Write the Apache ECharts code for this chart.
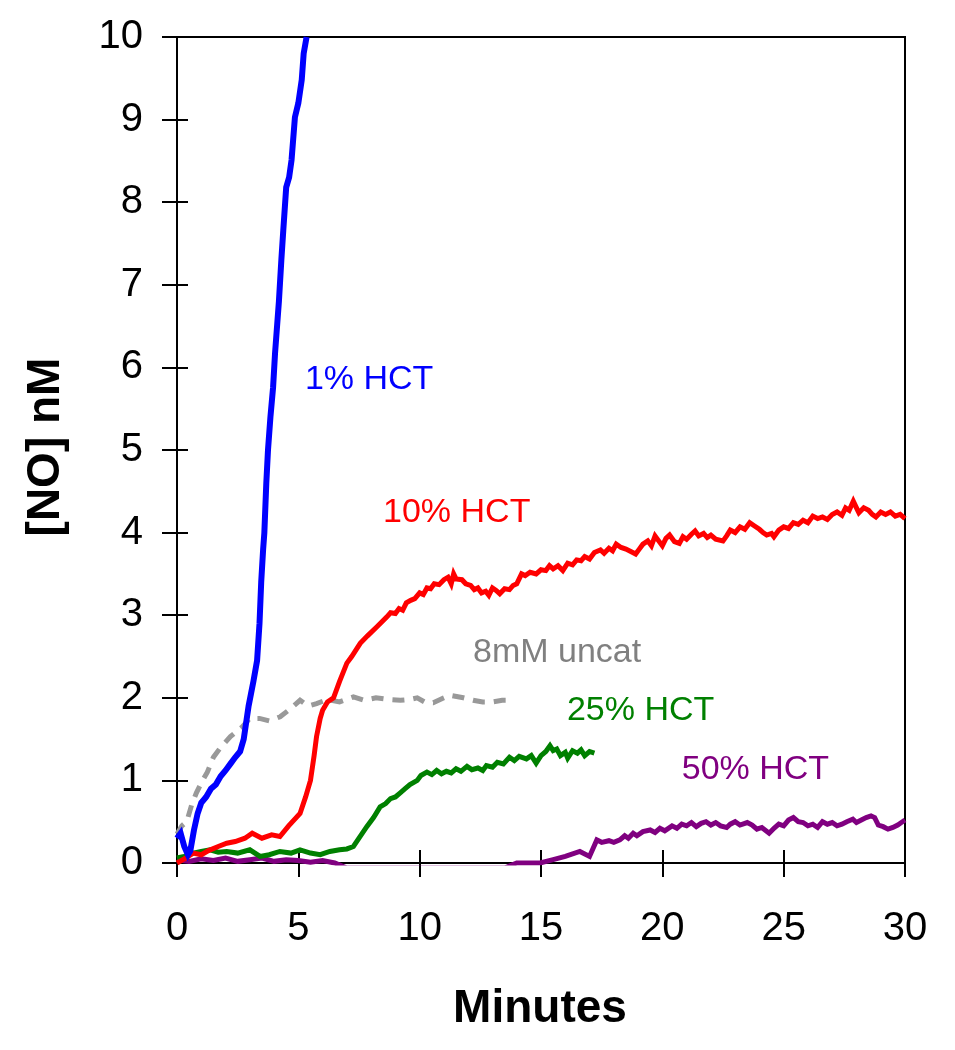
<!DOCTYPE html>
<html>
<head>
<meta charset="utf-8">
<script src="https://cdn.jsdelivr.net/npm/echarts@6/dist/echarts.min.js"></script>
<style>
html,body{margin:0;padding:0;background:#fff;}
#chart{width:955px;height:1050px;}
</style>
</head>
<body>
<div id="chart"></div>
<script>
// ---- data (minutes, [NO] nM) ----
var xTicks = [0, 5, 10, 15, 20, 25, 30];
var yTicks = [0, 1, 2, 3, 4, 5, 6, 7, 8, 9, 10];

var hct1 = [[0,0.3],[0.15,0.36],[0.3,0.2],[0.45,0.1],[0.55,0.15],[0.7,0.4],[0.85,0.6],[1.0,0.73],[1.2,0.8],[1.4,0.9],[1.6,0.95],[1.8,1.05],[2.0,1.12],[2.2,1.2],[2.4,1.28],[2.6,1.35],[2.75,1.5],[2.85,1.7],[2.95,1.9],[3.05,2.05],[3.15,2.2],[3.3,2.45],[3.4,2.9],[3.47,3.4],[3.55,3.8],[3.6,4.0],[3.68,4.6],[3.75,5.0],[3.85,5.4],[3.96,5.76],[4.04,6.17],[4.2,6.8],[4.3,7.3],[4.38,7.66],[4.5,8.18],[4.62,8.3],[4.72,8.51],[4.86,9.03],[5.0,9.2],[5.14,9.48],[5.22,9.8],[5.34,10]];

var uncat8mM = [[0,0.35],[0.2,0.45],[0.4,0.5],[0.6,0.7],[0.8,0.85],[1.0,0.97],[1.25,1.1],[1.5,1.28],[1.8,1.4],[2.2,1.53],[2.7,1.65],[3.0,1.75],[3.4,1.75],[3.8,1.72],[4.25,1.77],[4.6,1.85],[5.07,1.97],[5.4,1.9],[5.75,1.93],[6.2,1.98],[6.7,1.95],[7.27,2.01],[7.7,1.97],[8.2,2.0],[8.7,1.98],[9.2,1.97],[9.6,1.98],[9.9,2.0],[10.2,1.95],[10.56,1.94],[11.0,2.0],[11.25,2.03],[11.8,2.0],[12.2,1.97],[12.6,1.95],[13.0,1.95],[13.4,1.97],[13.8,1.97]];

var hct10 = [[0,0.0],[0.3,0.05],[0.67,0.12],[1.0,0.1],[1.3,0.15],[1.7,0.2],[2.05,0.24],[2.4,0.26],[2.8,0.3],[3.1,0.36],[3.5,0.3],[3.9,0.34],[4.24,0.32],[4.6,0.45],[5.07,0.6],[5.3,0.8],[5.5,1.0],[5.65,1.3],[5.75,1.53],[5.9,1.75],[6.0,1.85],[6.2,1.95],[6.45,2.0],[6.7,2.2],[7.0,2.42],[7.2,2.5],[7.55,2.66],[7.85,2.75],[8.24,2.86],[8.65,2.98],[8.8,3.03],[9.0,3.02],[9.15,3.08],[9.3,3.06],[9.45,3.15],[9.63,3.18],[9.8,3.2],[10.0,3.27],[10.15,3.25],[10.3,3.33],[10.45,3.32],[10.6,3.38],[10.8,3.37],[11.0,3.43],[11.17,3.46],[11.3,3.38],[11.4,3.5],[11.5,3.44],[11.74,3.43],[11.9,3.38],[12.1,3.36],[12.25,3.31],[12.4,3.33],[12.55,3.27],[12.72,3.29],[12.85,3.24],[13.0,3.33],[13.15,3.3],[13.3,3.26],[13.5,3.32],[13.7,3.31],[13.85,3.36],[14.0,3.38],[14.2,3.5],[14.35,3.48],[14.55,3.52],[14.8,3.5],[15.0,3.55],[15.2,3.54],[15.35,3.6],[15.5,3.56],[15.7,3.6],[15.9,3.54],[16.1,3.63],[16.3,3.61],[16.47,3.67],[16.65,3.66],[16.8,3.71],[17.0,3.68],[17.2,3.76],[17.45,3.79],[17.6,3.75],[17.8,3.81],[17.95,3.78],[18.1,3.86],[18.3,3.82],[18.5,3.8],[18.7,3.77],[18.9,3.74],[19.05,3.8],[19.2,3.86],[19.4,3.9],[19.55,3.84],[19.7,3.96],[19.85,3.9],[20.0,3.84],[20.15,3.93],[20.3,3.97],[20.5,3.89],[20.7,3.87],[20.85,3.95],[21.0,3.92],[21.2,3.98],[21.35,4.02],[21.5,3.96],[21.7,3.99],[21.85,3.94],[22.0,3.97],[22.2,3.92],[22.5,3.9],[22.65,3.96],[22.8,4.03],[23.0,4.0],[23.2,4.07],[23.4,4.04],[23.6,4.12],[23.8,4.08],[24.0,4.04],[24.15,4.0],[24.3,3.97],[24.5,3.99],[24.6,3.95],[24.8,4.03],[25.0,4.07],[25.2,4.05],[25.4,4.12],[25.6,4.1],[25.8,4.15],[26.0,4.12],[26.2,4.2],[26.4,4.17],[26.6,4.19],[26.8,4.16],[27.0,4.22],[27.2,4.25],[27.4,4.21],[27.55,4.3],[27.7,4.27],[27.87,4.38],[28.0,4.3],[28.1,4.24],[28.3,4.3],[28.5,4.27],[28.65,4.22],[28.8,4.19],[29.0,4.25],[29.2,4.22],[29.4,4.25],[29.6,4.2],[29.8,4.22],[30,4.17]];

var hct25 = [[0,0.06],[0.3,0.08],[0.67,0.12],[1.0,0.14],[1.36,0.16],[1.7,0.13],[2.05,0.14],[2.5,0.12],[3.0,0.16],[3.42,0.08],[3.8,0.1],[4.24,0.14],[4.7,0.12],[5.07,0.16],[5.5,0.12],[5.9,0.1],[6.3,0.14],[6.7,0.16],[7.0,0.17],[7.27,0.2],[7.5,0.3],[7.82,0.44],[8.1,0.55],[8.37,0.68],[8.6,0.72],[8.8,0.78],[9.0,0.8],[9.2,0.85],[9.4,0.9],[9.6,0.95],[9.9,1.0],[10.05,1.06],[10.3,1.1],[10.5,1.07],[10.7,1.12],[10.9,1.08],[11.1,1.11],[11.3,1.09],[11.5,1.14],[11.7,1.11],[11.95,1.17],[12.15,1.13],[12.4,1.15],[12.6,1.12],[12.75,1.18],[13.0,1.16],[13.2,1.22],[13.45,1.2],[13.7,1.28],[13.9,1.24],[14.1,1.29],[14.4,1.26],[14.6,1.3],[14.8,1.21],[15.0,1.3],[15.2,1.35],[15.37,1.42],[15.5,1.36],[15.65,1.38],[15.8,1.3],[16.0,1.34],[16.1,1.27],[16.3,1.36],[16.5,1.33],[16.65,1.37],[16.8,1.3],[17.0,1.35],[17.2,1.33]];

var hct50 = [[0,0.04],[0.5,0.02],[1.0,0.05],[1.5,0.03],[2.0,0.06],[2.5,0.02],[3.0,0.04],[3.5,0.06],[4.0,0.02],[4.5,0.04],[5.0,0.03],[5.5,0.01],[6.0,0.03],[6.5,0.0],[7.0,-0.06],[10.0,-0.06],[13.5,-0.06],[14.0,0.0],[14.96,0.0],[15.5,0.04],[16.0,0.08],[16.6,0.14],[17.0,0.08],[17.3,0.28],[17.5,0.25],[17.8,0.27],[18.0,0.25],[18.25,0.28],[18.45,0.33],[18.6,0.3],[18.8,0.36],[18.95,0.33],[19.2,0.38],[19.5,0.4],[19.7,0.37],[19.9,0.42],[20.1,0.39],[20.4,0.45],[20.6,0.42],[20.8,0.47],[21.0,0.45],[21.2,0.49],[21.4,0.44],[21.6,0.48],[21.8,0.5],[22.0,0.46],[22.2,0.49],[22.4,0.45],[22.65,0.43],[22.8,0.47],[23.0,0.5],[23.2,0.46],[23.5,0.49],[23.7,0.46],[23.9,0.41],[24.1,0.43],[24.4,0.36],[24.6,0.42],[24.8,0.47],[25.0,0.45],[25.2,0.52],[25.4,0.55],[25.6,0.5],[25.8,0.49],[26.0,0.45],[26.2,0.47],[26.4,0.43],[26.6,0.5],[26.8,0.47],[27.0,0.49],[27.2,0.45],[27.4,0.47],[27.6,0.5],[27.85,0.53],[28.0,0.49],[28.2,0.52],[28.4,0.55],[28.6,0.57],[28.75,0.55],[28.9,0.46],[29.1,0.44],[29.3,0.41],[29.5,0.43],[29.7,0.46],[29.85,0.49],[30,0.52]];

// labels: [text, x(min), y(nM) of left/middle anchor, colour]
var seriesLabels = [
  ['1% HCT', 5.27, 5.85, '#0000FF'],
  ['10% HCT', 8.49, 4.24, '#FF0000'],
  ['8mM uncat', 12.2, 2.55, '#808080'],
  ['25% HCT', 16.07, 1.84, '#008000'],
  ['50% HCT', 20.8, 1.13, '#800080']
];

var FONT = '"Liberation Sans", Arial, sans-serif';
var chart = echarts.init(document.getElementById('chart'), null, {renderer: 'canvas'});

function line(name, data, color, width, type) {
  return {
    name: name, type: 'line', data: data, showSymbol: false, symbol: 'none',
    clip: true, animation: false,
    lineStyle: {color: color, width: width, type: type || 'solid', cap: 'butt', join: 'miter'}
  };
}

var option = {
  animation: false,
  backgroundColor: '#fff',
  grid: {left: 177, right: 50, top: 37, bottom: 187, show: true, borderColor: '#000', borderWidth: 2, backgroundColor: 'transparent'},
  xAxis: [{
    type: 'value', min: 0, max: 30, interval: 5,
    axisLine: {show: true, onZero: false, lineStyle: {color: '#000', width: 2}},
    axisTick: {show: true, length: 14, lineStyle: {color: '#000', width: 2}},
    axisLabel: {margin: 46, fontSize: 40, color: '#000', fontFamily: FONT},
    splitLine: {show: false}
  }, {
    type: 'value', min: 0, max: 30, interval: 5, position: 'bottom',
    axisLine: {show: false},
    axisTick: {show: true, inside: true, length: 13, lineStyle: {color: '#000', width: 2}},
    axisLabel: {show: false}, splitLine: {show: false}
  }],
  yAxis: [{
    type: 'value', min: 0, max: 10, interval: 1,
    axisLine: {show: true, onZero: false, lineStyle: {color: '#000', width: 2}},
    axisTick: {show: true, length: 15, lineStyle: {color: '#000', width: 2}},
    axisLabel: {margin: 34, fontSize: 40, color: '#000', fontFamily: FONT},
    splitLine: {show: false}
  }, {
    type: 'value', min: 0, max: 10, interval: 1, position: 'left', offset: 0,
    axisLine: {show: false},
    axisTick: {show: true, inside: true, length: 11, lineStyle: {color: '#000', width: 2}},
    axisLabel: {show: false}, splitLine: {show: false}
  }],
  series: [
    line('50% HCT', hct50, '#800080', 5),
    line('25% HCT', hct25, '#008000', 5),
    line('8mM uncat', uncat8mM, '#999999', 5, [12, 9]),
    line('10% HCT', hct10, '#FF0000', 5),
    line('1% HCT', hct1, '#0000FF', 6)
  ]
};
chart.setOption(option);

var g = [];
seriesLabels.forEach(function (l) {
  var p = chart.convertToPixel({gridIndex: 0}, [l[1], l[2]]);
  g.push({type: 'text', x: p[0], y: p[1], z: 100,
    style: {text: l[0], fill: l[3], font: '34px ' + FONT, textAlign: 'left', textVerticalAlign: 'middle'}});
});
g.push({type: 'text', x: 540, y: 1009, z: 100,
  style: {text: 'Minutes', fill: '#000', font: 'bold 46px ' + FONT, textAlign: 'center', textVerticalAlign: 'middle'}});
g.push({type: 'text', x: 46, y: 447, rotation: Math.PI / 2, z: 100,
  style: {text: '[NO] nM', fill: '#000', font: 'bold 46px ' + FONT, textAlign: 'center', textVerticalAlign: 'middle'}});
chart.setOption({graphic: g});
</script>
</body>
</html>
